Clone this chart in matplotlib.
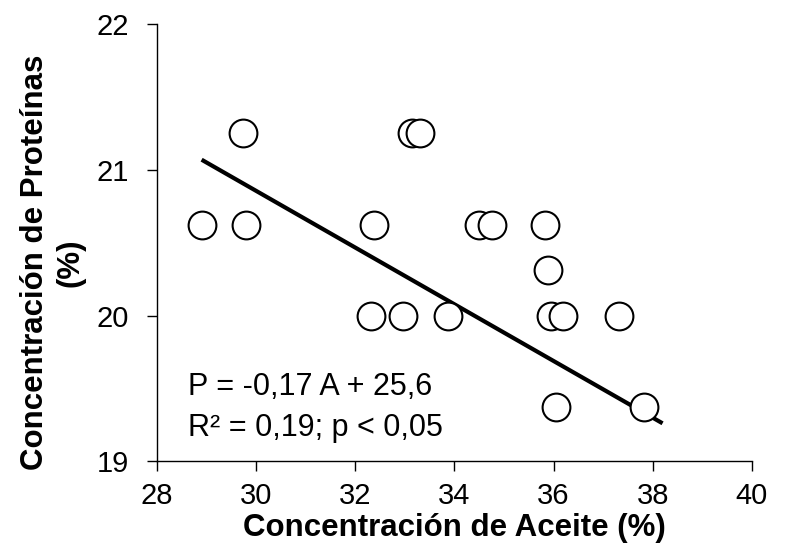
import numpy as np
import matplotlib
matplotlib.use("Agg")
from matplotlib import pyplot as plt

plt.rcParams['font.family'] = ['Liberation Sans', 'DejaVu Sans']

# oil (%) vs protein (%)
aceite = [28.90, 29.73, 29.79, 32.38, 32.31, 32.96, 33.14, 33.30, 33.87,
          34.49, 34.76, 35.83, 35.89, 35.94, 36.20, 37.32, 36.06, 37.83]
proteina = [20.625, 21.25, 20.625, 20.625, 20.0, 20.0, 21.25, 21.25, 20.0,
            20.625, 20.625, 20.625, 20.3125, 20.0, 20.0, 20.0, 19.375, 19.375]

# trend line as drawn
trend_x = [28.9, 38.2]
trend_y = [21.07, 19.26]

x_ticks = [28, 30, 32, 34, 36, 38, 40]
y_ticks = [19, 20, 21, 22]

fig = plt.figure(figsize=(7.93, 5.51), dpi=100)
ax = fig.add_axes([0.198, 0.163, 0.750, 0.793])

ax.plot(trend_x, trend_y, color='black', lw=3, solid_capstyle='butt', zorder=2)
ax.plot(aceite, proteina, 'o', ms=20, mfc='white', mec='black', mew=1.5,
        linestyle='none', zorder=3)

ax.set_xlim(28, 40)
ax.set_ylim(19, 22)
ax.set_xticks(x_ticks)
ax.set_yticks(y_ticks)
ax.tick_params(direction='out', length=7, width=1, labelsize=21)
ax.tick_params(axis='x', pad=8)
ax.tick_params(axis='y', pad=13)

for s in ['top', 'right']:
    ax.spines[s].set_visible(False)
for s in ['left', 'bottom']:
    ax.spines[s].set_linewidth(1)

ax.set_xlabel('Concentración de Aceite (%)', fontsize=22.5, fontweight='bold', labelpad=2)
ax.set_ylabel('Concentración de Proteínas\n(%)', fontsize=22.5, fontweight='bold',
              linespacing=1.25)
ax.yaxis.set_label_coords(-0.12, 0.455)

ax.text(28.62, 19.51, 'P = -0,17 A + 25,6', fontsize=22, va='center', ha='left')
ax.text(28.62, 19.23, 'R² = 0,19; p < 0,05', fontsize=22, va='center', ha='left')

fig.savefig('out.png', dpi=100)
